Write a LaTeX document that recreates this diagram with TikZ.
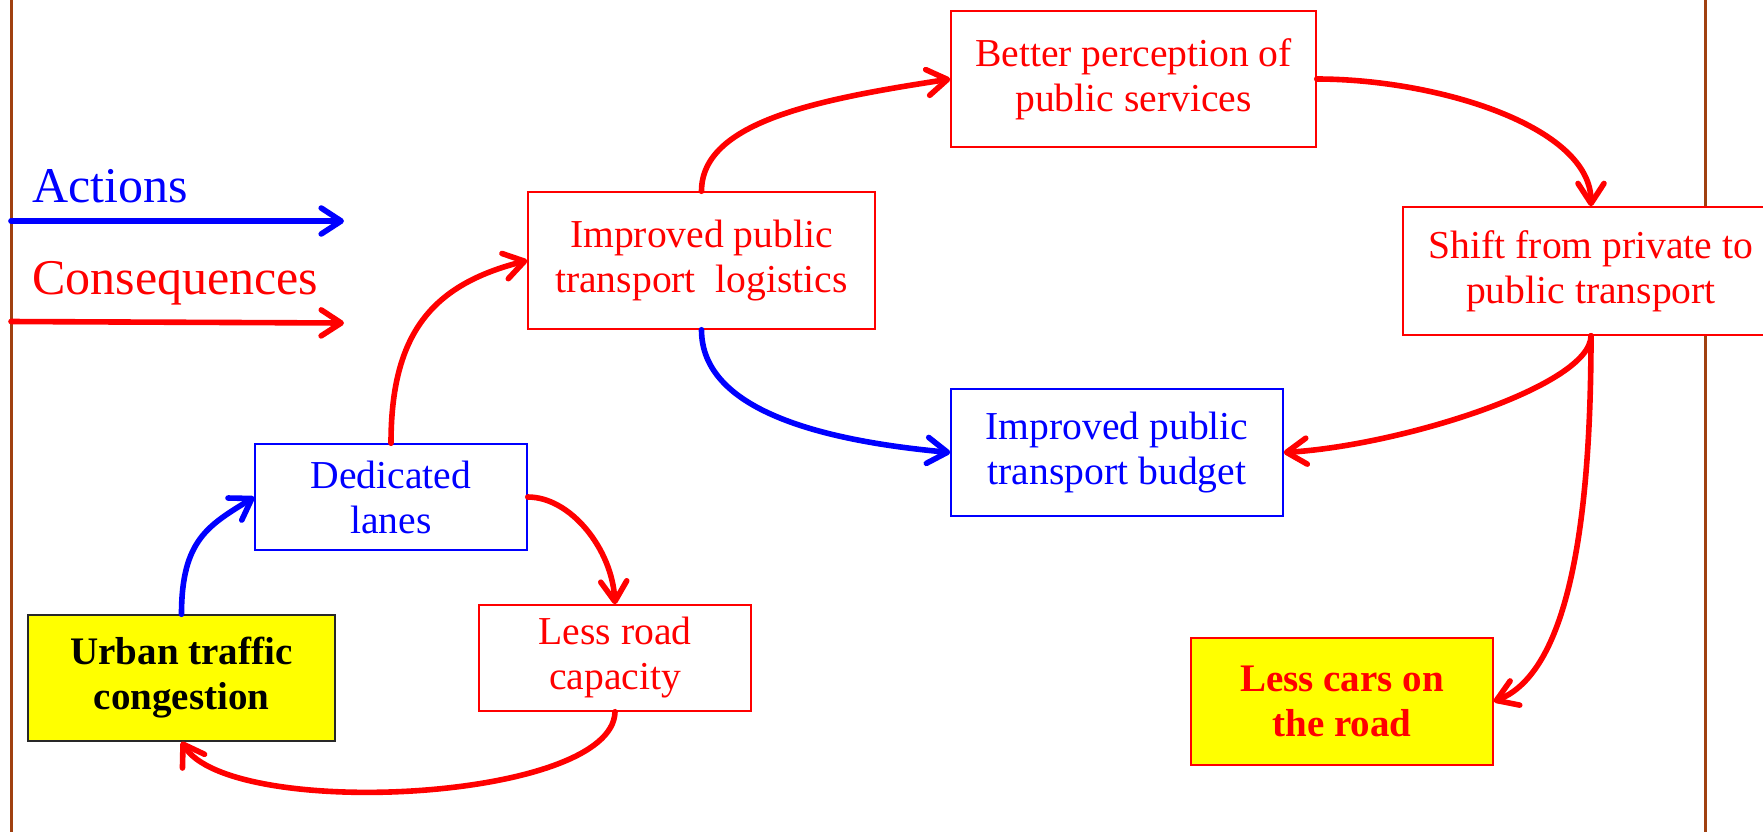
\documentclass[tikz,border=0pt]{standalone}
\usepackage{fontspec}
\setmainfont{Liberation Serif}
\usetikzlibrary{arrows.meta}
\definecolor{brownline}{RGB}{160,64,16}
\definecolor{myred}{RGB}{255,0,0}
\definecolor{myblue}{RGB}{0,0,255}
\definecolor{myyellow}{RGB}{255,255,0}
\definecolor{darkborder}{RGB}{40,40,40}
\begin{document}
\begin{tikzpicture}[x=0.5pt,y=0.5pt,
  box/.style={draw, line width=0.75pt, align=center, inner sep=0pt, fill=white,
    font=\fontsize{19.8}{22.5}\selectfont},
  redbox/.style={box, draw=myred, text=myred},
  bluebox/.style={box, draw=myblue, text=myblue},
  yellowbox/.style={box, fill=myyellow, font=\fontsize{19.5}{22.5}\selectfont\bfseries},
  conn/.style={line width=2.8pt, line cap=round,
    -{Straight Barb[length=10pt,width=13pt,line cap=round,line join=round]}},
  legend/.style={anchor=base west, inner sep=0pt, font=\fontsize{25}{30}\selectfont},
  wall/.style={brownline, line width=1.5pt}
]
\useasboundingbox (0,0) rectangle (1763,-832);
\draw[wall] (11,0) -- (11,-832);
\draw[wall] (1705,0) -- (1705,-832);

% legend
\node[legend, text=myblue] (actionslbl) at (32,-202) {Actions};
\node[legend, text=myred] (conslbl) at (32,-294) {Consequences};
\coordinate (a0) at (11,-221);
\coordinate (a1) at (344,-221);
\coordinate (c0) at (11,-321.5);
\coordinate (c1) at (344,-323);
\draw[conn, myblue] (a0) -- (a1);
\draw[conn, myred] (c0) -- (c1);

% boxes
\node[redbox, minimum width=182.5pt, minimum height=68pt] (better) at (1133.5,-79) {Better perception of\\public services};
\node[redbox, minimum width=173.5pt, minimum height=68.5pt] (logistics) at (701.5,-260.5) {Improved public\\transport\ \ logistics};
\node[redbox, minimum width=188pt, minimum height=64pt] (shift) at (1591,-271) {Shift from private to\\public transport};
\node[bluebox, minimum width=166pt, minimum height=63.5pt] (budget) at (1117,-452.5) {Improved public\\transport budget};
\node[bluebox, minimum width=136pt, minimum height=53pt] (dedicated) at (391,-497) {Dedicated\\lanes};
\node[redbox, minimum width=136pt, minimum height=53pt] (lessroad) at (615,-658) {Less road\\capacity};
\node[yellowbox, draw=darkborder, text=black, minimum width=153.5pt, minimum height=63pt] (urban) at (181.5,-678) {Urban traffic\\congestion};
\node[yellowbox, draw=myred, text=myred, minimum width=151pt, minimum height=63.5pt] (lesscars) at (1342,-701.5) {Less cars on\\the road};

% connectors
\draw[conn, myblue] (urban.north) .. controls +(0,75) and +(-45,-28) .. (dedicated.west);
\draw[conn, myred] (dedicated.north) .. controls +(0,110) and +(-95,-24) .. (logistics.west);
\draw[conn, myred] (dedicated.east) .. controls +(43,0) and +(-3,55) .. (lessroad.north);
\draw[conn, myred] (lessroad.south) .. controls +(-2,-90) and +(49,-79) .. (urban.south);
\draw[conn, myred] (logistics.north) .. controls +(0,70) and +(-130,-20) .. (better.west);
\draw[conn, myblue] (logistics.south) .. controls +(0,-80) and +(-130,12) .. (budget.west);
\draw[conn, myred] (better.east) .. controls +(120,0) and +(0,80) .. (shift.north);
\draw[conn, myred] (shift.south) .. controls +(0,-50) and +(117,7) .. (budget.east);
\draw[conn, myred] (shift.south) .. controls +(0,-240) and +(60,24) .. (lesscars.east);
\end{tikzpicture}
\end{document}
